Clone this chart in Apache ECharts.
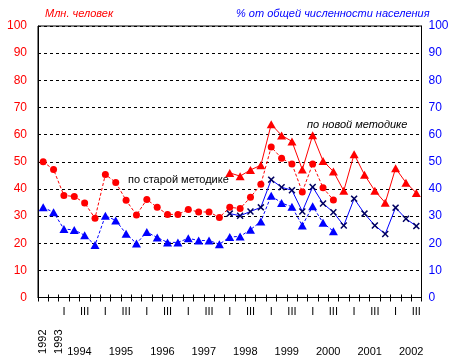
<!DOCTYPE html>
<html><head><meta charset="utf-8">
<script src="https://cdn.jsdelivr.net/npm/echarts@6/dist/echarts.min.js"></script>
<style>html,body{margin:0;padding:0;background:#fff}#c{width:454px;height:360px}</style>
</head><body><div id="c"></div>
<script>
const categories = ['1992','1993',
 '1994 I','1994 II','1994 III','1994 IV',
 '1995 I','1995 II','1995 III','1995 IV',
 '1996 I','1996 II','1996 III','1996 IV',
 '1997 I','1997 II','1997 III','1997 IV',
 '1998 I','1998 II','1998 III','1998 IV',
 '1999 I','1999 II','1999 III','1999 IV',
 '2000 I','2000 II','2000 III','2000 IV',
 '2001 I','2001 II','2001 III','2001 IV',
 '2002 I','2002 II','2002 III'];
const quarterLabels = ['','',
 'I','','III','', 'I','','III','', 'I','','III','', 'I','','III','',
 'I','','III','', 'I','','III','', 'I','','III','', 'I','','III','',
 'I','','III'];
const singleYearLabels = ['1992','1993'];
const yearLabels = ['1994','1995','1996','1997','1998','1999','2000','2001','2002'];
const yTicks = [0,10,20,30,40,50,60,70,80,90,100];

// по старой методике
const oldMln = [50,47.1,37.6,37.2,34.8,29.2,45.3,42.4,35.8,30.4,36.1,33.2,30.6,30.6,32.4,31.5,31.5,29.5,
 33.2,32.8,36.9,41.7,55.4,51.3,49.2,38.9,49.2,40.4,35.9];
const oldPct = [33.2,31.4,25.2,24.9,22.9,19.3,30.1,28.4,23.5,19.9,24.1,22.1,20.3,20.3,21.8,21.0,21.0,19.6,
 22.3,22.5,25.0,28.0,37.5,34.8,33.4,26.5,33.6,27.5,24.4];
// по новой методике
const newMln = [null,null,null,null,null,null,null,null,null,null,null,null,null,null,null,null,null,null,
 45.9,44.7,47.0,48.7,63.8,59.7,57.5,47.1,59.8,50.3,46.4,39.3,52.8,45.2,39.3,34.9,47.6,42.3,38.5];
const newPct = [null,null,null,null,null,null,null,null,null,null,null,null,null,null,null,null,null,null,
 30.9,30.1,31.7,33.2,43.4,40.6,39.5,31.7,40.7,34.6,31.4,26.5,36.4,30.9,26.5,23.4,33.1,29.0,26.3];

const FONT = 'Arial, "Liberation Sans", sans-serif';
const xPath = 'path://M0,1.5L1.5,0L5,3.5L8.5,0L10,1.5L6.5,5L10,8.5L8.5,10L5,6.5L1.5,10L0,8.5L3.5,5Z';

const chart = echarts.init(document.getElementById('c'), null, {renderer:'canvas'});
chart.setOption({
  animation:false,
  backgroundColor:'#fff',
  textStyle:{fontFamily:FONT},
  grid:{left:38,right:32.5,top:26,bottom:62.5,show:true,borderColor:'#000',borderWidth:1,backgroundColor:'transparent'},
  xAxis:[
    {type:'category',data:categories,boundaryGap:true,
     axisLine:{onZero:false,lineStyle:{color:'#000',width:1}},
     axisTick:{show:true,interval:0,length:4,lineStyle:{color:'#000'}},
     axisLabel:{interval:0,margin:9,color:'#000',fontSize:11,fontFamily:FONT,
       formatter:(v,i)=>quarterLabels[i]},
     splitLine:{show:false}},
    {type:'category',data:categories,boundaryGap:true,position:'bottom',
     axisLine:{show:false,onZero:false},
     axisTick:{show:true,inside:true,interval:0,length:3,lineStyle:{color:'#000'}},
     axisLabel:{interval:0,rotate:90,margin:32,color:'#000',fontSize:11,fontFamily:FONT,
       formatter:(v,i)=>(i===0?'{a|'+singleYearLabels[0]+'}':(i===1?'{b|'+singleYearLabels[1]+'}':'')),
       rich:{a:{fontSize:11,fontFamily:FONT,color:'#000'},
             b:{fontSize:11,fontFamily:FONT,color:'#000',padding:[10,0,0,0]}}},
     splitLine:{show:false}},
    {type:'value',min:0,max:37,interval:4,position:'bottom',
     axisLine:{show:false,onZero:false},axisTick:{show:false},splitLine:{show:false},
     axisLabel:{margin:49,color:'#000',fontSize:11,fontFamily:FONT,showMinLabel:true,showMaxLabel:false,
       formatter:v=>{const k=v/4-1;return (k>=0&&k<yearLabels.length&&Number.isInteger(k))?yearLabels[k]:'';}}}
  ],
  yAxis:[
    {type:'value',min:yTicks[0],max:yTicks[yTicks.length-1],interval:10,position:'left',
     axisLine:{show:true,lineStyle:{color:'#000'}},axisTick:{show:false},
     axisLabel:{color:'#ff0000',fontSize:12,margin:11,fontFamily:FONT},
     splitLine:{show:true,lineStyle:{color:'#000',type:[3,3],width:1}}},
    {type:'value',min:yTicks[0],max:yTicks[yTicks.length-1],interval:10,position:'right',
     axisLine:{show:true,lineStyle:{color:'#000'}},axisTick:{show:false},
     axisLabel:{color:'#0000ff',fontSize:12,margin:7,fontFamily:FONT},
     splitLine:{show:false}}
  ],
  series:[
    {name:'Млн. человек (по старой методике)',type:'line',xAxisIndex:0,yAxisIndex:0,data:oldMln,
     symbol:'circle',symbolSize:7,itemStyle:{color:'#ff0000'},
     lineStyle:{color:'#ff0000',width:1,type:[3,2]},connectNulls:false},
    {name:'% (по старой методике)',type:'line',xAxisIndex:0,yAxisIndex:1,data:oldPct,
     symbol:'triangle',symbolSize:[9,8],itemStyle:{color:'#0000ff'},
     lineStyle:{color:'#0000ff',width:1,type:[3,2]}},
    {name:'Млн. человек (по новой методике)',type:'line',xAxisIndex:0,yAxisIndex:0,data:newMln,
     symbol:'triangle',symbolSize:[9,8],itemStyle:{color:'#ff0000'},
     lineStyle:{color:'#ff0000',width:1}},
    {name:'% (по новой методике)',type:'line',xAxisIndex:0,yAxisIndex:1,data:newPct,
     symbol:xPath,symbolSize:7,itemStyle:{color:'#000060'},
     lineStyle:{color:'#0000ff',width:1}}
  ],
  graphic:[
    {type:'text',left:45,top:8,style:{text:'Млн. человек',fill:'#ff0000',font:'italic 11px '+FONT}},
    {type:'text',left:236,top:8,style:{text:'% от общей численности населения',fill:'#0000ff',font:'italic 11px '+FONT}},
    {type:'text',left:128,top:174,style:{text:'по старой методике',fill:'#000',font:'11px '+FONT}},
    {type:'text',left:307,top:119,style:{text:'по новой методике',fill:'#000',font:'italic 11px '+FONT}}
  ]
});
</script></body></html>
